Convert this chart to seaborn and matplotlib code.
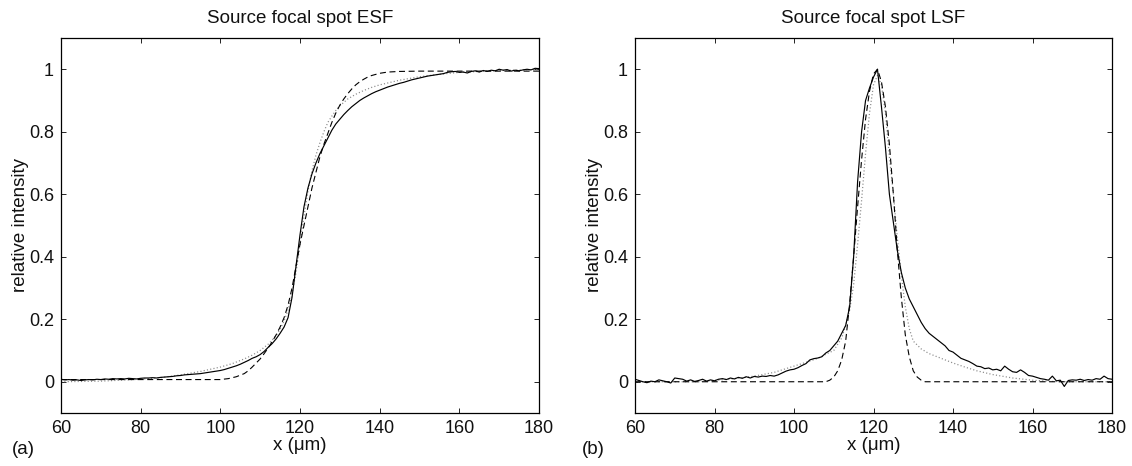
import matplotlib
matplotlib.use("Agg")
import matplotlib.pyplot as plt
import seaborn as sns
import numpy as np

# ---------------- data ----------------
# ESF measured (solid), 1 um spacing 60..180
esf_x = list(range(60, 181))
esf_meas = [0.008, 0.006, 0.007, 0.005, 0.006, 0.004, 0.006, 0.007, 0.006, 0.008,
            0.007, 0.009, 0.008, 0.010, 0.009, 0.010, 0.009, 0.011, 0.010, 0.009,
            0.011, 0.012, 0.012, 0.013, 0.012, 0.014, 0.015, 0.016, 0.017, 0.019,
            0.020, 0.022, 0.023, 0.024, 0.025, 0.026, 0.028, 0.030, 0.032, 0.034,
            0.036, 0.039, 0.043, 0.047, 0.051, 0.056, 0.062, 0.068, 0.075, 0.080,
            0.087, 0.097, 0.110, 0.122, 0.137, 0.155, 0.175, 0.205, 0.270, 0.370,
            0.470, 0.560, 0.620, 0.665, 0.700, 0.730, 0.755, 0.780, 0.805, 0.825,
            0.840, 0.855, 0.868, 0.880, 0.890, 0.900, 0.908, 0.915, 0.922, 0.928,
            0.933, 0.938, 0.943, 0.947, 0.951, 0.955, 0.958, 0.962, 0.966, 0.969,
            0.972, 0.975, 0.978, 0.980, 0.982, 0.984, 0.986, 0.990, 0.992, 0.993,
            0.990, 0.991, 0.988, 0.993, 0.995, 0.991, 0.996, 0.993, 0.997, 0.995,
            1.000, 0.997, 0.999, 0.994, 0.997, 0.995, 0.998, 1.000, 0.998, 1.003,
            1.002]

# ESF fit (dotted)
esf_fit_x = [60, 70, 80, 85, 90, 95, 100, 103, 106, 108, 110, 112, 113, 114, 115,
             116, 117, 118, 119, 120, 121, 122, 123, 124, 125, 126, 127, 128, 129,
             130, 132, 134, 136, 138, 140, 145, 150, 155, 160, 170, 180]
esf_fit = [0.000, 0.002, 0.008, 0.013, 0.022, 0.033, 0.047, 0.058, 0.073, 0.085,
           0.100, 0.120, 0.133, 0.148, 0.168, 0.195, 0.230, 0.280, 0.350, 0.440,
           0.530, 0.610, 0.675, 0.725, 0.765, 0.800, 0.830, 0.850, 0.868, 0.883,
           0.905, 0.920, 0.932, 0.942, 0.950, 0.965, 0.976, 0.984, 0.990, 0.996,
           0.999]

# ESF model (dashed)
esf_mod_x = [60, 100, 102, 104, 106, 107, 108, 109, 110, 111, 112, 113, 114, 115,
             116, 117, 118, 119, 120, 121, 122, 123, 124, 125, 126, 127, 128, 129,
             130, 131, 132, 133, 134, 135, 136, 137, 138, 140, 142, 145, 150, 180]
esf_mod = [0.007, 0.007, 0.010, 0.016, 0.026, 0.035, 0.047, 0.060, 0.073, 0.090,
           0.108, 0.128, 0.150, 0.175, 0.205, 0.245, 0.300, 0.370, 0.440, 0.500,
           0.560, 0.620, 0.670, 0.720, 0.760, 0.795, 0.830, 0.860, 0.885, 0.905,
           0.922, 0.937, 0.950, 0.960, 0.968, 0.975, 0.980, 0.987, 0.991, 0.993,
           0.994, 0.994]

# LSF measured (solid), 1 um spacing 60..180
lsf_x = list(range(60, 181))
lsf_meas = [0.008, 0.004, 0.000, -0.003, 0.002, 0.000, 0.006, 0.003, 0.000, -0.004,
            0.012, 0.010, 0.008, 0.002, 0.006, 0.001, 0.004, 0.008, 0.002, 0.006,
            0.003, 0.008, 0.010, 0.007, 0.012, 0.009, 0.014, 0.011, 0.016, 0.012,
            0.017, 0.015, 0.018, 0.017, 0.020, 0.018, 0.022, 0.028, 0.034, 0.038,
            0.040, 0.045, 0.052, 0.058, 0.070, 0.074, 0.076, 0.080, 0.092, 0.100,
            0.115, 0.130, 0.155, 0.180, 0.240, 0.400, 0.640, 0.800, 0.900, 0.940,
            0.975, 1.000, 0.880, 0.750, 0.600, 0.510, 0.420, 0.350, 0.300, 0.265,
            0.240, 0.215, 0.190, 0.170, 0.155, 0.145, 0.135, 0.125, 0.115, 0.100,
            0.095, 0.085, 0.075, 0.070, 0.065, 0.058, 0.050, 0.048, 0.042, 0.044,
            0.038, 0.040, 0.035, 0.050, 0.040, 0.032, 0.030, 0.038, 0.030, 0.020,
            0.018, 0.014, 0.010, 0.008, 0.005, 0.018, 0.003, 0.005, -0.015, 0.004,
            0.006, 0.005, 0.008, 0.004, 0.007, 0.005, 0.010, 0.008, 0.018, 0.010,
            0.008]

# LSF fit (dotted)
lsf_fit_x = [60, 76, 78, 80, 85, 90, 95, 100, 103, 106, 108, 110, 111, 112, 113,
             114, 115, 116, 117, 118, 119, 120, 121, 122, 123, 124, 125, 126, 127,
             128, 129, 130, 132, 134, 136, 138, 140, 143, 146, 150, 155, 160, 165,
             170, 180]
lsf_fit = [0.000, 0.000, 0.002, 0.004, 0.010, 0.018, 0.030, 0.050, 0.062, 0.075,
           0.088, 0.100, 0.120, 0.140, 0.180, 0.230, 0.310, 0.440, 0.580, 0.730,
           0.860, 0.950, 0.980, 0.950, 0.860, 0.720, 0.600, 0.460, 0.340, 0.240,
           0.170, 0.130, 0.105, 0.090, 0.080, 0.070, 0.060, 0.047, 0.035, 0.023,
           0.012, 0.005, 0.001, 0.000, 0.000]

# LSF model (dashed)
lsf_mod_x = [60, 108, 109, 110, 111, 112, 113, 114, 115, 116, 117, 118, 119, 120,
             121, 122, 123, 124, 125, 126, 127, 128, 129, 130, 131, 132, 133, 180]
lsf_mod = [0.000, 0.000, 0.005, 0.015, 0.035, 0.070, 0.130, 0.250, 0.400, 0.560,
           0.710, 0.840, 0.930, 0.985, 1.000, 0.960, 0.880, 0.760, 0.600, 0.420,
           0.270, 0.150, 0.080, 0.035, 0.015, 0.005, 0.000, 0.000]

titles = ["Source focal spot ESF", "Source focal spot LSF"]
panel_labels = ["(a)", "(b)"]
x_ticks = [60, 80, 100, 120, 140, 160, 180]
y_ticks = [0, 0.2, 0.4, 0.6, 0.8, 1]
y_tick_labels = ["0", "0.2", "0.4", "0.6", "0.8", "1"]

# ---------------- style ----------------
sns.set_theme(style="white")
plt.rcParams["font.family"] = ["Liberation Sans", "DejaVu Sans"]
plt.rcParams["lines.scale_dashes"] = False

W, H = 1132, 466
fig = plt.figure(figsize=(W / 100, H / 100), dpi=100)
ax1 = fig.add_axes([61 / W, 53 / H, 478 / W, 375 / H])
ax2 = fig.add_axes([635 / W, 53 / H, 477 / W, 375 / H])

panels = [
    (ax1, esf_x, esf_meas, esf_fit_x, esf_fit, esf_mod_x, esf_mod),
    (ax2, lsf_x, lsf_meas, lsf_fit_x, lsf_fit, lsf_mod_x, lsf_mod),
]

for i, (ax, mx, my, fx, fy, dx, dy) in enumerate(panels):
    sns.lineplot(x=fx, y=fy, ax=ax, color="#8a8a8a", linewidth=0.9,
                 linestyle=(0, (0.8, 1.6)), sort=False)
    sns.lineplot(x=dx, y=dy, ax=ax, color="black", linewidth=0.8,
                 linestyle=(0, (4.3, 2.6)), sort=False)
    sns.lineplot(x=mx, y=my, ax=ax, color="black", linewidth=0.85, sort=False)

    ax.set_xlim(60, 180)
    ax.set_ylim(-0.1, 1.1)
    ax.set_xticks(x_ticks)
    ax.set_xticklabels([str(t) for t in x_ticks])
    ax.set_yticks(y_ticks)
    ax.set_yticklabels(y_tick_labels)
    ax.tick_params(direction="in", length=3.4, width=0.6, color="black",
                   top=True, right=True, bottom=True, left=True,
                   labelsize=13, pad=5, labelcolor="#111111")
    for sp in ax.spines.values():
        sp.set_visible(True)
        sp.set_color("black")
        sp.set_linewidth(0.9)
    ax.set_title(titles[i], fontsize=13.5, pad=11, color="#111111")
    ax.set_xlabel("x (\u03bcm)", fontsize=13.5, labelpad=0, color="#111111")
    ax.set_ylabel("relative intensity", fontsize=13.5, labelpad=0, color="#111111")
    ax.grid(False)
    ax.set_facecolor("white")

fig.text(12 / W, 1 - 449 / H, panel_labels[0], fontsize=13.5, ha="left",
         va="center", color="#111111")
fig.text(582 / W, 1 - 449 / H, panel_labels[1], fontsize=13.5, ha="left",
         va="center", color="#111111")

fig.savefig("out.png", dpi=100, facecolor="white")
